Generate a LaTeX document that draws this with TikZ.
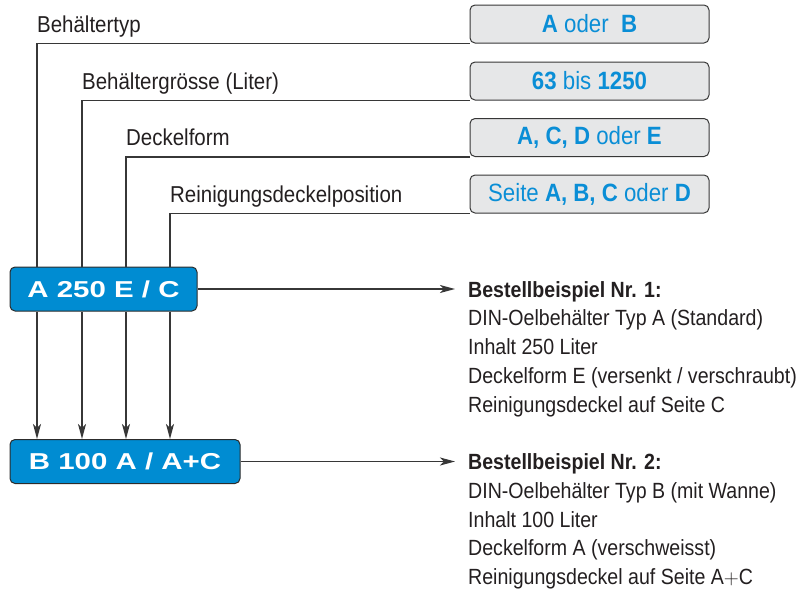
\documentclass[tikz,border=0pt]{standalone}
\usepackage{fontspec}
\setmainfont{Liberation Sans}[FakeStretch=0.89]
\newfontfamily\codefont{Liberation Sans}[FakeStretch=1.28]
\usetikzlibrary{arrows.meta,positioning}
\definecolor{codeblue}{RGB}{0,140,210}
\definecolor{valblue}{RGB}{10,142,214}
\definecolor{valgray}{RGB}{230,231,232}
\definecolor{linegray}{RGB}{55,55,55}
\definecolor{textgray}{RGB}{35,31,32}
\tikzset{
  conn/.style={draw=linegray,line width=1.2pt},
  arr/.style={conn,-{Stealth[length=15pt,width=8pt,inset=4pt]}},
  lbl/.style={anchor=base west,inner sep=0pt,text=textgray,font=\fontsize{23}{27}\selectfont},
  valbox/.style={draw=linegray,line width=1pt,fill=valgray,rounded corners=5pt,
    minimum width=239pt,minimum height=38pt,inner sep=0pt,text=valblue,
    font=\fontsize{25}{29}\selectfont},
  codebox/.style={draw=linegray!80!black,line width=1pt,fill=codeblue,rounded corners=5pt,
    minimum height=44pt,inner sep=0pt,text=white,font=\codefont\bfseries\fontsize{23}{27}\selectfont},
  % base of a multi-line node = baseline of its last line
  example/.style={anchor=base west,inner xsep=13pt,inner ysep=0pt,align=left,text=textgray,
    font=\fontsize{22}{28.75}\selectfont}
}
\begin{document}
\begin{tikzpicture}[x=1pt,y=-1pt]
\useasboundingbox (0,0) rectangle (806,592);
% value boxes (right column)
\node[valbox] (v1) at (589.5,24) {\textbf{A} oder\ \ \textbf{B}};
\node[valbox] (v2) at (589.5,81) {\textbf{63} bis \textbf{1250}};
\node[valbox] (v3) at (589.5,137.5) {\textbf{A, C, D} oder \textbf{E}};
\node[valbox] (v4) at (589.5,194) {Seite \textbf{A, B, C} oder \textbf{D}};
% labels above the leader lines
\node[lbl] (l1) at (37,32.5) {Behältertyp};
\node[lbl] (l2) at (82,89.5) {Behältergrösse (Liter)};
\node[lbl] (l3) at (126,145.5) {Deckelform};
\node[lbl] (l4) at (170,202.5) {Reinigungsdeckelposition};
% order codes
\node[codebox,minimum width=187pt] (codeA) at (103.5,289) {A 250 E / C};
\node[codebox,minimum width=230pt] (codeB) at (125,461.5) {B 100 A / A+C};
% columns of the code
\coordinate (x1) at (37,0);
\coordinate (x2) at (82,0);
\coordinate (x3) at (126,0);
\coordinate (x4) at (170,0);
\foreach \i in {1,...,4}{
  \draw[conn] (v\i.south west) -| (codeA.north -| x\i);
  \draw[arr] (codeA.south -| x\i) -- (codeB.north -| x\i);
}
% examples
\node[example] (ex1) at (455,412) {\textbf{Bestellbeispiel Nr. 1:}\\
  DIN-Oelbehälter Typ A (Standard)\\
  Inhalt 250 Liter\\
  Deckelform E (versenkt / verschraubt)\\
  Reinigungsdeckel auf Seite C};
\node[example] (ex2) at (455,584.5) {\textbf{Bestellbeispiel Nr. 2:}\\
  DIN-Oelbehälter Typ B (mit Wanne)\\
  Inhalt 100 Liter\\
  Deckelform A (verschweisst)\\
  Reinigungsdeckel auf Seite A$+$C};
\draw[arr] (codeA.east) -- (codeA.east -| ex1.west);
\draw[arr] (codeB.east) -- (codeB.east -| ex2.west);
\end{tikzpicture}
\end{document}
